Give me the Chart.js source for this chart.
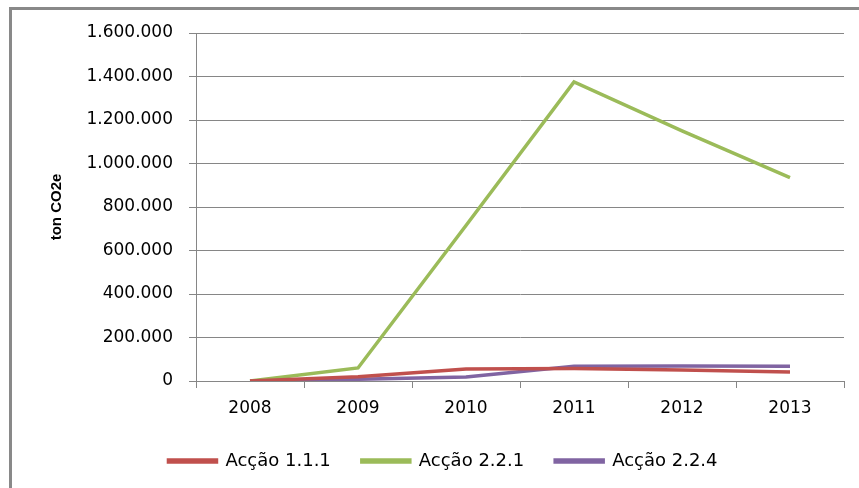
<!DOCTYPE html>
<html>
<head>
<meta charset="utf-8">
<script src="https://cdn.jsdelivr.net/npm/chart.js@4.4.1/dist/chart.umd.min.js"></script>
<style>
  html, body { margin: 0; padding: 0; background: #fff; }
  #wrap { position: relative; width: 859px; height: 488px; }
  #frame { position: absolute; left: 9px; top: 7px; right: 0; bottom: 0;
           border-left: 3px solid #898989; border-top: 3px solid #898989; }
</style>
</head>
<body>
<div id="wrap">
  <div id="frame"></div>
  <canvas id="line-chart" width="859" height="488"></canvas>
</div>
<script>
var years = ["2008", "2009", "2010", "2011", "2012", "2013"];
var acao111 = [0, 20000, 55000, 58000, 51000, 41000];
var acao221 = [0, 60000, 715000, 1375000, 1150000, 935000];
var acao224 = [0, 8000, 18000, 68000, 69000, 68000];

function dots(v) {
  return v.toString().replace(/\B(?=(\d{3})+(?!\d))/g, ".");
}

new Chart(document.getElementById("line-chart"), {
    type: 'line',
    data: {
      labels: years,
      datasets: [
        {
          label: "Acção 1.1.1",
          borderColor: "#C0504D",
          backgroundColor: "#C0504D",
          data: acao111
        }, {
          label: "Acção 2.2.1",
          borderColor: "#9BBB59",
          backgroundColor: "#9BBB59",
          data: acao221
        }, {
          label: "Acção 2.2.4",
          borderColor: "#8064A2",
          backgroundColor: "#8064A2",
          data: acao224
        }
      ]
    },
    options: {
      responsive: false,
      animation: false,
      layout: { padding: { left: 42, right: 15, top: 33, bottom: 8 } },
      elements: {
        line: { borderWidth: 3.5, tension: 0 },
        point: { radius: 0, hoverRadius: 0 }
      },
      plugins: {
        legend: {
          position: 'bottom',
          labels: {
            boxWidth: 48,
            boxHeight: 2,
            padding: 31,
            color: '#000',
            font: { family: 'DejaVu Sans', size: 18 }
          }
        },
        tooltip: { enabled: false }
      },
      scales: {
        x: {
          offset: true,
          grid: { drawOnChartArea: false, offset: true, tickLength: 7, color: '#868686' },
          border: { color: '#868686' },
          ticks: { color: '#000', padding: 10, font: { family: 'DejaVu Sans', size: 17 } },
          afterFit: function (s) { s.height = 40; }
        },
        y: {
          min: 0,
          max: 1600000,
          grid: { color: '#868686', tickLength: 7 },
          border: { color: '#868686' },
          ticks: {
            stepSize: 200000,
            color: '#000',
            padding: 16,
            font: { family: 'DejaVu Sans', size: 17 },
            callback: function (v) { return dots(v); }
          },
          title: {
            display: true,
            text: 'ton CO2e',
            color: '#000',
            padding: { top: 6, bottom: 0 },
            font: { family: 'Liberation Sans', size: 15, weight: 'bold' }
          },
          afterFit: function (s) { s.width = 154; }
        }
      }
    }
});
</script>
</body>
</html>
